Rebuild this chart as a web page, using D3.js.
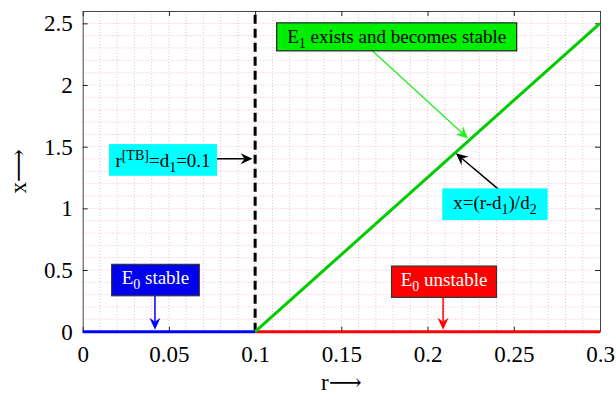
<!DOCTYPE html>
<html>
<head>
<meta charset="utf-8">
<script src="https://cdn.jsdelivr.net/npm/d3@7"></script>
<style>
  html, body { margin: 0; padding: 0; background: #fff; }
  svg, svg text { font-family: "Liberation Serif", "Times New Roman", Times, "DejaVu Serif", serif; }
</style>
</head>
<body>
<svg id="chart" width="616" height="395"></svg>
<script>
// ---------- data ----------
const xTickValues = [0, 0.05, 0.1, 0.15, 0.2, 0.25, 0.3];
const xTickLabels = ["0", "0.05", "0.1", "0.15", "0.2", "0.25", "0.3"];
const yTickValues = [0, 0.5, 1, 1.5, 2, 2.5];
const yTickLabels = ["0", "0.5", "1", "1.5", "2", "2.5"];
const d1 = 0.1;
const d2 = 0.08;
const e0StableR = [0, 0.1];
const e0StableX = [0, 0];
const e0UnstableR = [0.1, 0.3];
const e0UnstableX = [0, 0];
const e1R = [0.1, 0.3];
const e1X = [0, 2.5];
const thresholdR = [0.1, 0.1];
const thresholdX = [0, 2.6];

(function () {
const FONT = '"Liberation Serif", "Times New Roman", Times, "DejaVu Serif", serif';
// ---------- layout ----------
const pL = 82.7, pR = 600, pT = 11, pB = 331.7;
const svg = d3.select("#chart");
const x = d3.scaleLinear().domain([0, 0.3]).range([pL, pR]);
const y = d3.scaleLinear().domain([0, 2.6]).range([pB, pT]);

// grid
const grid = svg.append("g");
grid.selectAll("line.gx").data(d3.range(1, 30).map(i => i / 100)).enter().append("line")
  .attr("x1", d => x(d)).attr("x2", d => x(d)).attr("y1", pT).attr("y2", pB)
  .attr("stroke", "#f6b8da").attr("stroke-width", 1).attr("stroke-dasharray", "1,2");
grid.selectAll("line.gy").data(d3.range(1, 26).map(i => i / 10)).enter().append("line")
  .attr("x1", pL).attr("x2", pR).attr("y1", d => y(d)).attr("y2", d => y(d))
  .attr("stroke", "#f6b8da").attr("stroke-width", 1).attr("stroke-dasharray", "1,2");

// axes
const fmtX = d => xTickLabels[xTickValues.indexOf(d)];
const fmtY = d => yTickLabels[yTickValues.indexOf(d)];
const axB = svg.append("g").attr("transform", `translate(0,${pB})`)
  .call(d3.axisBottom(x).tickValues(xTickValues).tickFormat(fmtX).tickSizeInner(-5).tickSizeOuter(0).tickPadding(14));
const axL = svg.append("g").attr("transform", `translate(${pL},0)`)
  .call(d3.axisLeft(y).tickValues(yTickValues).tickFormat(fmtY).tickSizeInner(-5).tickSizeOuter(0).tickPadding(10));
const axT = svg.append("g").attr("transform", `translate(0,${pT})`)
  .call(d3.axisTop(x).tickValues(xTickValues).tickFormat("").tickSizeInner(-5).tickSizeOuter(0));
const axR = svg.append("g").attr("transform", `translate(${pR},0)`)
  .call(d3.axisRight(y).tickValues(yTickValues).tickFormat("").tickSizeInner(-5).tickSizeOuter(0));
[axB, axL, axT, axR].forEach(a => {
  a.attr("font-family", FONT).attr("font-size", 23);
  a.select(".domain").attr("stroke", "#444");
  a.selectAll(".tick line").attr("stroke", "#222");
  a.selectAll("text").style("font-family", FONT).attr("font-size", 23).attr("fill", "#000");
});

// lines
const line = d3.line().x(d => x(d[0])).y(d => y(d[1]));
svg.append("path").datum(thresholdR.map((r, i) => [r, thresholdX[i]])).attr("d", line)
  .attr("stroke", "#000").attr("stroke-width", 3).attr("stroke-dasharray", "9,5").attr("fill", "none");
svg.append("path").datum(e0StableR.map((r, i) => [r, e0StableX[i]])).attr("d", line)
  .attr("stroke", "#0000ff").attr("stroke-width", 3).attr("fill", "none");
svg.append("path").datum(e0UnstableR.map((r, i) => [r, e0UnstableX[i]])).attr("d", line)
  .attr("stroke", "#ff0000").attr("stroke-width", 3).attr("fill", "none");
svg.append("path").datum(e1R.map((r, i) => [r, e1X[i]])).attr("d", line)
  .attr("stroke", "#00cc00").attr("stroke-width", 3).attr("fill", "none");

// annotations
function arrow(s, t, color, w) {
  const sx = x(s[0]), sy = y(s[1]), tx = x(t[0]), ty = y(t[1]);
  const ang = Math.atan2(ty - sy, tx - sx);
  const L = 12, hw = 5.5, notch = 4;
  const ux = Math.cos(ang), uy = Math.sin(ang), px = -uy, py = ux;
  const bx = tx - ux * L, by = ty - uy * L;
  const nx = tx - ux * (L - notch), ny = ty - uy * (L - notch);
  svg.append("line").attr("x1", sx).attr("y1", sy).attr("x2", nx).attr("y2", ny)
    .attr("stroke", color).attr("stroke-width", w);
  svg.append("path")
    .attr("d", `M${tx},${ty}L${bx + px * hw},${by + py * hw}L${nx},${ny}L${bx - px * hw},${by - py * hw}Z`)
    .attr("fill", color);
}
function box(r, xv, w, h, fill, stroke) {
  const bx = x(r), by = y(xv);
  svg.append("rect").attr("x", bx).attr("y", by).attr("width", w).attr("height", h)
    .attr("fill", fill).attr("stroke", stroke || "none").attr("stroke-width", 1.2);
  return { cx: bx + w / 2, cy: by + h / 2 };
}
function label(c, parts, color, dy) {
  const t = svg.append("text").attr("x", c.cx).attr("y", c.cy + dy).attr("text-anchor", "middle")
    .style("font-family", FONT).attr("font-size", 19).attr("fill", color);
  parts.forEach(p => {
    const ts = t.append("tspan").text(p.t);
    if (p.sub) ts.attr("font-size", 14).attr("baseline-shift", "-5");
    if (p.sup) ts.attr("font-size", 14).attr("baseline-shift", "7");
  });
}

// E1 exists and becomes stable
arrow([0.1675, 2.283], [0.2235, 1.567], "#22ee22", 1.3);
let c = box(0.1125, 2.504, 240, 28, "#00ee00", "#222");
label(c, [{ t: "E" }, { t: "1", sub: true }, { t: " exists and becomes stable" }], "#000", 6);

// threshold label
arrow([0.0779, 1.402], [0.0985, 1.402], "#000", 1.5);
c = box(0.01525, 1.521, 108, 31.7, "#00ffff");
label(c, [{ t: "r" }, { t: "[TB]", sup: true }, { t: "=d" }, { t: "1", sub: true }, { t: "=0.1" }], "#000", 7);

// equation label
arrow([0.241, 1.156], [0.2164, 1.446], "#000", 1.5);
c = box(0.2085, 1.162, 105.4, 31.7, "#00ffff");
label(c, [{ t: "x=(r-d" }, { t: "1", sub: true }, { t: ")/d" }, { t: "2", sub: true }], "#000", 5);

// E0 stable
arrow([0.0419, 0.292], [0.0419, 0.016], "#0000ff", 1.5);
c = box(0.0168, 0.546, 87.6, 31.4, "#0000ee", "#333");
label(c, [{ t: "E" }, { t: "0", sub: true }, { t: " stable" }], "#fff", 4);

// E0 unstable
arrow([0.209, 0.279], [0.209, 0.016], "#ff0000", 1.5);
c = box(0.1791, 0.532, 105, 31.3, "#ff0000", "#333");
label(c, [{ t: "E" }, { t: "0", sub: true }, { t: " unstable" }], "#fff", 4);

// axis titles
svg.append("text").attr("x", (pL + pR) / 2).attr("y", 390).attr("text-anchor", "middle")
  .style("font-family", FONT).attr("font-size", 23).text("r\u27F6");
svg.append("text").attr("transform", `translate(26,${(pT + pB) / 2}) rotate(-90)`)
  .attr("text-anchor", "middle").style("font-family", FONT).attr("font-size", 23).text("x\u27F6");
})();
</script>
</body>
</html>
